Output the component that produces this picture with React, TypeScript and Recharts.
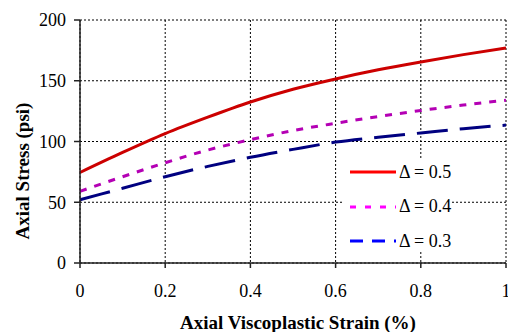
import { LineChart, Line, XAxis, YAxis, CartesianGrid, Label } from 'recharts';

const strain = [0, 0.1, 0.2, 0.3, 0.4, 0.5, 0.6, 0.7, 0.8, 0.9, 1.0];
const delta05 = [74.5, 91, 106.5, 120, 132.5, 143, 151.5, 159, 165.5, 171.5, 177];
const delta04 = [59, 71, 82.5, 93, 101.5, 109, 115, 120.5, 125.5, 130, 134];
const delta03 = [52, 61.5, 71, 79.5, 87, 93.5, 99.5, 103.5, 107, 110.5, 113.5];

const xTicks = [0, 0.2, 0.4, 0.6, 0.8, 1];
const yTicks = [0, 50, 100, 150, 200];

const seriesInfo = [
  { key: 'd05', name: 'Δ = 0.5', color: '#cc0000', legendColor: '#ff0000', dash: undefined, legendDash: undefined },
  { key: 'd04', name: 'Δ = 0.4', color: '#b400b4', legendColor: '#ff00ff', dash: '7 8', legendDash: '6 9' },
  { key: 'd03', name: 'Δ = 0.3', color: '#000080', legendColor: '#0000ff', dash: '31 12', legendDash: '13 9' },
];

const data = strain.map((x, i) => ({
  x,
  d05: delta05[i],
  d04: delta04[i],
  d03: delta03[i],
}));

const FONT = '"Times New Roman", Times, serif';

export default function App() {
  return (
    <div style={{ position: 'absolute', left: 0, top: 0, width: 508, height: 332, background: '#fff', fontFamily: FONT }}>
      <LineChart width={508} height={332} data={data} margin={{ top: 20, right: 2, bottom: 0, left: 0 }}>
        <CartesianGrid stroke="#000" strokeDasharray="2 2" />
        <XAxis
          dataKey="x"
          type="number"
          domain={[0, 1]}
          ticks={xTicks}
          height={69}
          tickSize={5}
          tickMargin={16}
          stroke="#222"
          strokeWidth={1.5}
          interval={0}
          tick={{ fill: '#000', fontSize: 18, fontFamily: FONT }}
          tickFormatter={(v) => String(v)}
        >
          <Label
            content={() => (
              <text x={298} y={329} textAnchor="middle" fontFamily={FONT} fontSize={19} fontWeight="bold" fill="#000">
                Axial Viscoplastic Strain (%)
              </text>
            )}
          />
        </XAxis>
        <YAxis
          type="number"
          domain={[0, 200]}
          ticks={yTicks}
          width={80}
          tickSize={6}
          tickMargin={8}
          stroke="#222"
          strokeWidth={1.5}
          tick={{ fill: '#000', fontSize: 18, fontFamily: FONT }}
        >
          <Label
            content={() => (
              <text
                x={22}
                y={171}
                transform="rotate(-90, 22, 171)"
                textAnchor="middle"
                dominantBaseline="central"
                fontFamily={FONT}
                fontSize={19}
                fontWeight="bold"
                fill="#000"
              >
                Axial Stress (psi)
              </text>
            )}
          />
        </YAxis>
        {seriesInfo.map((s) => (
          <Line
            key={s.key}
            dataKey={s.key}
            name={s.name}
            type="monotone"
            stroke={s.color}
            strokeWidth={3}
            strokeDasharray={s.dash}
            dot={false}
            isAnimationActive={false}
          />
        ))}
      </LineChart>
      <div
        style={{
          position: 'absolute',
          left: 343,
          top: 159,
          width: 109,
          height: 93,
          background: '#fff',
          fontFamily: FONT,
          fontSize: 18,
          color: '#000',
        }}
      >
        {seriesInfo.map((s, i) => (
          <div key={s.key} style={{ position: 'absolute', left: 7, top: 1 + i * 34.5, height: 24, display: 'flex', alignItems: 'center' }}>
            <svg width={46} height={6} style={{ display: 'block' }}>
              <line x1={0} y1={3} x2={46} y2={3} stroke={s.legendColor} strokeWidth={3} strokeDasharray={s.legendDash} />
            </svg>
            <span style={{ marginLeft: 3, whiteSpace: 'nowrap' }}>{s.name}</span>
          </div>
        ))}
      </div>
    </div>
  );
}
